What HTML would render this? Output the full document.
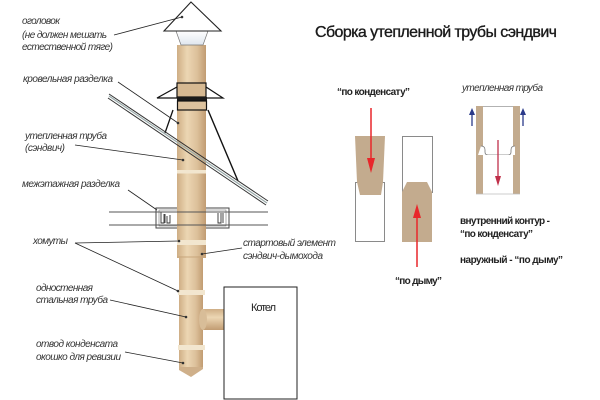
<!DOCTYPE html>
<html><head><meta charset="utf-8">
<style>
html,body{margin:0;padding:0;background:#fff;}
svg{display:block;}
.lb{font-family:"Liberation Sans","Noto Sans CJK SC",sans-serif;font-style:italic;font-size:10px;fill:#333;}
.bd{font-family:"Liberation Sans","Noto Sans CJK SC",sans-serif;font-weight:bold;font-size:10px;fill:#222;}
</style></head>
<body>
<svg width="600" height="400" viewBox="0 0 600 400" xmlns="http://www.w3.org/2000/svg">
<defs>
<linearGradient id="pg" x1="0" x2="1" y1="0" y2="0">
<stop offset="0" stop-color="#cfae85"/>
<stop offset="0.35" stop-color="#ecd6b3"/>
<stop offset="0.7" stop-color="#dcc09a"/>
<stop offset="1" stop-color="#c19c72"/>
</linearGradient>
<linearGradient id="pgh" x1="0" x2="0" y1="0" y2="1">
<stop offset="0" stop-color="#cfae85"/>
<stop offset="0.4" stop-color="#ecd6b3"/>
<stop offset="1" stop-color="#c19c72"/>
</linearGradient>
<linearGradient id="cap" x1="0" x2="0" y1="0" y2="1">
<stop offset="0" stop-color="#ffffff"/>
<stop offset="1" stop-color="#dfe6ee"/>
</linearGradient>
</defs>
<rect width="600" height="400" fill="#fff"/>

<!-- floor box behind pipe -->
<rect x="156" y="208" width="73" height="20" fill="#fff" stroke="#444" stroke-width="1"/>
<rect x="159" y="210" width="67" height="16" fill="none" stroke="#777" stroke-width="0.6"/>
<path d="M161 212 v11 h3 v-9 M165 214 v9 M167 216 v7 h3 v-8" fill="none" stroke="#333" stroke-width="0.9"/>
<path d="M218 213 v10 h3 v-10 M223 213 v10" fill="none" stroke="#333" stroke-width="0.9"/>

<!-- pipe -->
<rect x="177" y="45" width="29" height="213" fill="url(#pg)"/>
<rect x="179" y="256" width="24" height="112" fill="url(#pg)"/>
<polygon points="179,367 203,367 203,369 191,377 179,370" fill="#cfb08a"/>
<!-- tee -->
<rect x="202" y="309" width="22" height="21" fill="url(#pgh)"/>
<ellipse cx="203" cy="319.5" rx="4" ry="10.5" fill="#d8bd98"/>
<!-- bands -->
<rect x="177" y="170" width="29" height="3.5" fill="#f2e6cf"/>
<rect x="177" y="240" width="29" height="5" fill="#f2e6cf"/>
<rect x="178" y="290" width="27" height="5" fill="#f2e6cf"/>
<rect x="178" y="345" width="27" height="5" fill="#f2e6cf"/>
<line x1="177" y1="257" x2="206" y2="257" stroke="#c9a87e" stroke-width="1"/>

<!-- cap -->
<polygon points="176,31 208,31 203,45 181,45" fill="url(#cap)" stroke="#777" stroke-width="0.7"/>
<polygon points="191,2 164,31 221,31" fill="#fff" stroke="#222" stroke-width="1.1"/>

<!-- roof flashing -->
<polygon points="157,98 177,87 206,87 223,98" fill="#fff" stroke="#111" stroke-width="1.2"/>
<rect x="177" y="83" width="29" height="14" fill="#d6b992" stroke="#111" stroke-width="1.2"/>
<rect x="177" y="97" width="30" height="4" fill="#1a1a1a"/>
<rect x="177.5" y="101" width="29" height="9" fill="#dcc29e" stroke="#111" stroke-width="1.2"/>
<line x1="173" y1="110" x2="165" y2="133" stroke="#111" stroke-width="1.3"/>
<line x1="208" y1="110" x2="238" y2="181" stroke="#111" stroke-width="1.4"/>

<!-- roof -->
<line x1="109" y1="94" x2="268" y2="201" stroke="#333" stroke-width="1"/>
<line x1="108" y1="98" x2="266" y2="205" stroke="#333" stroke-width="1"/>
<line x1="109" y1="96" x2="267" y2="203" stroke="#9aa" stroke-width="1.2"/>

<!-- floor lines -->
<line x1="109" y1="212" x2="268" y2="212" stroke="#555" stroke-width="1"/>
<line x1="109" y1="225" x2="268" y2="225" stroke="#555" stroke-width="1"/>

<!-- leader lines -->
<g stroke="#222" stroke-width="0.8" fill="none">
<line x1="114" y1="35" x2="182" y2="17"/>
<line x1="118" y1="82" x2="178" y2="123"/>
<line x1="75" y1="145" x2="183" y2="160"/>
<line x1="128" y1="190" x2="157" y2="210"/>
<line x1="75" y1="243" x2="179" y2="241"/>
<line x1="75" y1="243" x2="178" y2="291"/>
<line x1="242" y1="248" x2="202" y2="254"/>
<line x1="110" y1="300" x2="186" y2="317"/>
<line x1="125" y1="352" x2="183" y2="363"/>
</g>
<g fill="#333">
<circle cx="182" cy="17" r="1.3"/>
<circle cx="178" cy="123" r="1.3"/>
<circle cx="183" cy="160" r="1.3"/>
<circle cx="179" cy="241" r="1.3"/>
<circle cx="178" cy="291" r="1.3"/>
<circle cx="202" cy="254" r="1.3"/>
<circle cx="186" cy="317" r="1.3"/>
<circle cx="183" cy="363" r="1.3"/>
</g>

<!-- boiler -->
<rect x="224" y="287" width="73" height="112" fill="#fff" stroke="#222" stroke-width="1"/>
<text x="251" y="311" font-family="Liberation Sans, sans-serif" font-size="11" fill="#222" textLength="25">Котел</text>

<!-- left labels -->
<text class="lb" x="22" y="24" textLength="38">оголовок</text>
<text class="lb" x="22" y="38" textLength="85">(не должен мешать</text>
<text class="lb" x="22" y="50" textLength="91">естественной тяге)</text>
<text class="lb" x="23" y="82" textLength="90">кровельная разделка</text>
<text class="lb" x="25" y="139" textLength="82">утепленная труба</text>
<text class="lb" x="25" y="151" textLength="40">(сэндвич)</text>
<text class="lb" x="22" y="187" textLength="98">межэтажная разделка</text>
<text class="lb" x="33" y="244" textLength="35">хомуты</text>
<text class="lb" x="36" y="291" textLength="57">одностенная</text>
<text class="lb" x="36" y="303" textLength="72">стальная труба</text>
<text class="lb" x="36" y="347" textLength="82">отвод конденсата</text>
<text class="lb" x="36" y="360" textLength="85">окошко для ревизии</text>
<text class="lb" x="243" y="246" textLength="93">стартовый элемент</text>
<text class="lb" x="243" y="259" textLength="80">сэндвич-дымохода</text>

<!-- title -->
<text x="315" y="37" font-family="Liberation Sans, sans-serif" font-size="16" fill="#1a1a1a" stroke="#1a1a1a" stroke-width="0.35" textLength="242">Сборка утепленной трубы сэндвич</text>

<!-- condensate diagram -->
<text class="bd" x="337" y="95" textLength="73">“по конденсату”</text>
<rect x="355.5" y="182.5" width="29" height="59" fill="#fff" stroke="#8a8a8a" stroke-width="1"/>
<polygon points="355,136 385,136 383,182 381,195 360,195 357,182" fill="#c3ab8e"/>
<line x1="371" y1="108" x2="371" y2="162" stroke="#e8262a" stroke-width="1.5"/>
<polygon points="367,158 375,158 371,173" fill="#e8262a"/>

<rect x="402.5" y="136.5" width="30" height="56" fill="#fff" stroke="#8a8a8a" stroke-width="1"/>
<polygon points="407,182 427,182 432,192 432,242 402,242 402,192" fill="#c3ab8e"/>
<line x1="417" y1="267" x2="417" y2="214" stroke="#e8262a" stroke-width="1.5"/>
<polygon points="413,218 421,218 417,204" fill="#e8262a"/>
<text class="bd" x="395" y="284" textLength="47">“по дыму”</text>

<!-- insulated pipe diagram -->
<text class="lb" x="462" y="91" textLength="81">утепленная труба</text>
<line x1="483" y1="106.5" x2="513" y2="106.5" stroke="#999" stroke-width="0.8"/>
<rect x="476" y="106" width="7" height="88" fill="#c3ab8e"/>
<rect x="513" y="106" width="7" height="88" fill="#c3ab8e"/>
<path d="M481 146 q4 0 4 4 v2 q0 3 3 3 h20 q3 0 3 -3 v-2 q0 -4 4 -4 v9 h-37z" fill="#fff" stroke="none"/>
<path d="M481 146 q4 0 4 4 v2 q0 3 3 3 h20 q3 0 3 -3 v-2 q0 -4 4 -4" fill="none" stroke="#777" stroke-width="0.8"/>
<rect x="483" y="155" width="30" height="39" fill="#fff"/>
<line x1="476" y1="194" x2="520" y2="194" stroke="#bbb" stroke-width="0.7"/>
<line x1="472" y1="126" x2="472" y2="113" stroke="#2b3a8a" stroke-width="1.3"/>
<polygon points="469,115 475,115 472,108" fill="#2b3a8a"/>
<line x1="523" y1="126" x2="523" y2="113" stroke="#2b3a8a" stroke-width="1.3"/>
<polygon points="520,115 526,115 523,108" fill="#2b3a8a"/>
<line x1="498" y1="140" x2="498" y2="178" stroke="#c0304a" stroke-width="1.3"/>
<polygon points="495,176 501,176 498,186" fill="#c0304a"/>

<text class="bd" x="460" y="224" textLength="90">внутренний контур -</text>
<text class="bd" x="460" y="237" textLength="73">“по конденсату”</text>
<text class="bd" x="460" y="263" textLength="103">наружный - “по дыму”</text>
</svg>
</body></html>
